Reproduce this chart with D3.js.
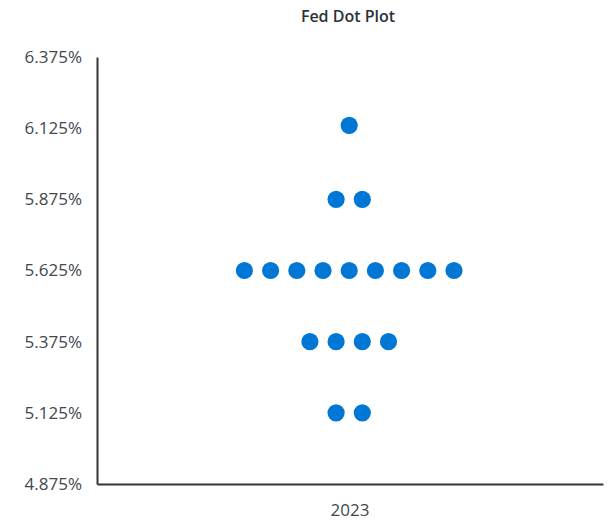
<!DOCTYPE html>
<html>
<head>
<meta charset="utf-8">
<script src="https://cdn.jsdelivr.net/npm/d3@7"></script>
<style>
  body { margin: 0; background: #fff; }
  text { font-family: "Open Sans", Roboto, sans-serif; }
</style>
</head>
<body>
<script>
// chart data
var years = ["2023"];
var rates = [6.135, 5.875, 5.625, 5.375, 5.125];
var counts = [1, 2, 9, 4, 2];
var yTicks = [4.875, 5.125, 5.375, 5.625, 5.875, 6.125, 6.375];

var width = 613,
    height = 524,
    margin = {top: 56, right: 10, bottom: 40, left: 97};

var svg = d3.select("body")
    .append("svg")
    .attr("width", width)
    .attr("height", height);

var y = d3.scaleLinear()
    .domain([4.875, 6.375])
    .range([height - margin.bottom, margin.top + 1]);

var x = d3.scaleBand()
    .domain(years)
    .range([margin.left, width - margin.right]);

// horizontal spread of dots within a row
var spread = d3.scaleLinear()
    .domain([0, 1])
    .range([0, 26.2]);

// title
svg.append("text")
    .attr("x", 348)
    .attr("y", 22)
    .attr("text-anchor", "middle")
    .style("font-size", "16px")
    .style("font-weight", "600")
    .style("fill", "#2b3238")
    .text("Fed Dot Plot");

// y axis
var yAxis = svg.append("g")
    .attr("transform", "translate(" + margin.left + ",0)")
    .call(d3.axisLeft(y).tickValues(yTicks).tickSize(0).tickPadding(15)
        .tickFormat(function(d){ return d3.format(".3f")(d) + "%"; }));
yAxis.select(".domain").attr("stroke", "#2f363c").attr("stroke-width", 2);
yAxis.selectAll("text").style("font-size", "17px").style("fill", "#41484e");

// x axis
var xAxis = svg.append("g")
    .attr("transform", "translate(0," + (height - margin.bottom) + ")")
    .call(d3.axisBottom(x).tickSize(0).tickPadding(20));
xAxis.select(".domain").attr("stroke", "#2f363c").attr("stroke-width", 2);
xAxis.selectAll("text").style("font-size", "17px").style("fill", "#41484e");

// dots
var dots = [];
rates.forEach(function(r, i){
    for (var k = 0; k < counts[i]; k++) {
        dots.push({year: years[0], rate: r, offset: k - (counts[i] - 1) / 2});
    }
});

svg.selectAll(".dot")
    .data(dots)
    .enter()
    .append("circle")
    .attr("class", "dot")
    .attr("cx", function(d){ return x(d.year) + x.bandwidth() / 2 - 0.8 + spread(d.offset); })
    .attr("cy", function(d){ return y(d.rate); })
    .attr("r", 8.6)
    .attr("fill", "#0077d4");
</script>
</body>
</html>
